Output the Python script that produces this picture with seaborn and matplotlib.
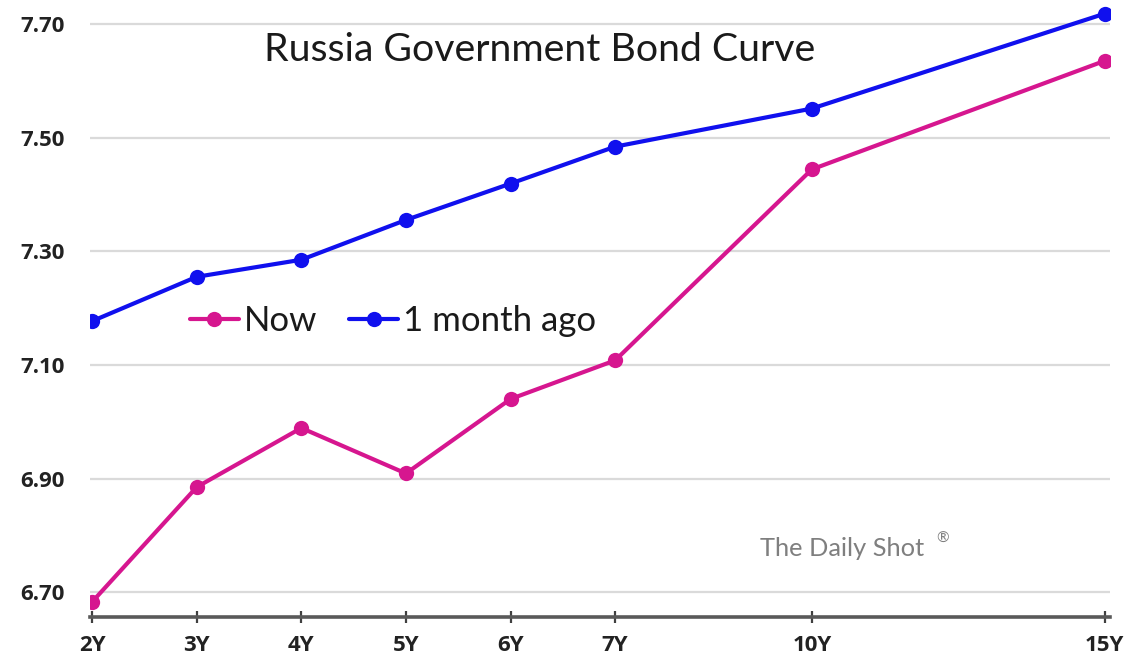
import matplotlib
matplotlib.use("Agg")
import matplotlib.pyplot as plt
import seaborn as sns
import pandas as pd

# Tenors and their positions on the horizontal axis
tenors = ["2Y", "3Y", "4Y", "5Y", "6Y", "7Y", "10Y", "15Y"]
tenor_pos = [0, 1, 2, 3, 4, 5, 6.88, 9.68]

# Yields (%)
now = [6.683, 6.885, 6.989, 6.909, 7.040, 7.108, 7.444, 7.635]
month_ago = [7.177, 7.255, 7.285, 7.355, 7.419, 7.484, 7.551, 7.718]

series_names = ["Now", "1 month ago"]
colors = {"Now": "#D6168F", "1 month ago": "#1010EE"}

y_ticks = [6.70, 6.90, 7.10, 7.30, 7.50, 7.70]

df = pd.concat([
    pd.DataFrame({"pos": tenor_pos, "tenor": tenors, "yield": now, "series": series_names[0]}),
    pd.DataFrame({"pos": tenor_pos, "tenor": tenors, "yield": month_ago, "series": series_names[1]}),
])

sns.set_theme(style="white")
plt.rcParams["font.family"] = ["Lato", "DejaVu Sans"]

fig = plt.figure(figsize=(11.35, 6.61), dpi=100)
ax = fig.add_axes([90 / 1135, 44.3 / 661, 1020 / 1135, 616.7 / 661])

sns.lineplot(
    data=df, x="pos", y="yield", hue="series", hue_order=series_names,
    palette=colors, marker="o", markersize=11, markeredgewidth=0,
    linewidth=3, ax=ax, zorder=3,
)

ax.set_xlim(-0.02, 9.73)
ax.set_ylim(6.657, 7.742)
ax.set_yticks(y_ticks)
ax.set_yticklabels([f"{v:.2f}" for v in y_ticks])
ax.set_xticks(tenor_pos)
ax.set_xticklabels(tenors)
ax.set_xlabel("")
ax.set_ylabel("")

for v in y_ticks:
    ax.axhline(v, color="#DADADA", linewidth=1.6, zorder=1)

for side in ["left", "right", "top"]:
    ax.spines[side].set_visible(False)
ax.spines["bottom"].set_color("#595959")
ax.spines["bottom"].set_linewidth(2.6)
ax.spines["bottom"].set_zorder(4)

ax.tick_params(axis="x", bottom=True, direction="inout", length=9, width=1.6, color="#404040",
               pad=9, labelcolor="#222222")
ax.tick_params(axis="y", left=False, length=0, pad=18, labelcolor="#222222")
for lbl in ax.get_xticklabels() + ax.get_yticklabels():
    lbl.set_fontweight("bold")
    lbl.set_fontfamily(["Open Sans", "DejaVu Sans"])
    lbl.set_fontsize(16)

ax.text(0.441, 0.919, "Russia Government Bond Curve", transform=ax.transAxes,
        ha="center", va="center", fontsize=28.3, color="#1a1a1a")

ax.text(0.737, 0.110, "The Daily Shot", transform=ax.transAxes,
        ha="center", va="center", fontsize=18.3, color="#7f7f7f")
ax.text(0.836, 0.127, "®", transform=ax.transAxes,
        ha="center", va="center", fontsize=11, color="#7f7f7f")

leg = ax.legend(loc="center left", bbox_to_anchor=(0.098, 0.48), ncol=2, frameon=False,
                fontsize=25, handlelength=1.4, handletextpad=0.15, columnspacing=0.93,
                borderaxespad=0, borderpad=0)
for t in leg.get_texts():
    t.set_color("#1a1a1a")

fig.savefig("out.png", dpi=100)
